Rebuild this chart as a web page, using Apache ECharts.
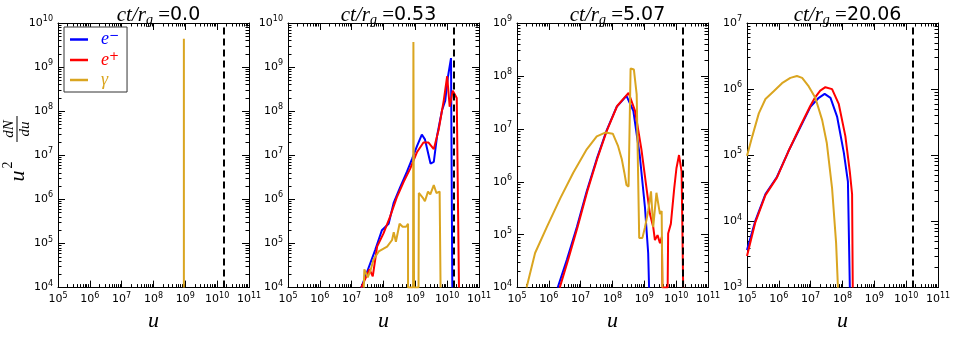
<!DOCTYPE html>
<html>
<head>
<meta charset="utf-8">
<script src="https://cdn.jsdelivr.net/npm/echarts@6/dist/echarts.min.js"></script>
<style>
html, body { margin: 0; padding: 0; background: #fff; }
#chart { width: 954px; height: 337px; }
</style>
</head>
<body>
<div id="chart"></div>
<script>
// one entry per panel
const times = ['0.0', '0.53', '5.07', '20.06'];
const uMin = 1e5, uMax = 1e11;
const yMins = [1e4, 1e4, 1e4, 1e3];
const yMaxs = [1e10, 1e10, 1e9, 1e7];
const uLimit = 1.6e10; // dashed vertical line

// [u, u^2 dN/du]
const elec0 = [];
const posi0 = [];
const phot0 = [[9e8, 1e4], [9e8, 4.4e9]];

const elec1 = [[2.0e7, 1e4], [3.0e7, 2.2e4], [5.5e7, 7.2e4], [8.9e7, 2.0e5], [1.45e8, 2.8e5], [2.1e8, 8.5e5],
  [3.4e8, 1.95e6], [5.5e8, 4.3e6], [7.9e8, 8.3e6], [1.12e9, 1.6e7], [1.6e9, 2.95e7], [2.0e9, 2.3e7],
  [3.0e9, 6.5e6], [3.8e9, 7.1e6], [4.8e9, 2.7e7], [6.9e9, 1.05e8], [8.7e9, 1.74e8], [1.05e10, 5.8e8],
  [1.32e10, 1.6e9], [1.45e10, 1e4]];
const posi1 = [[2.0e7, 1e4], [3.0e7, 1.9e4], [3.6e7, 2.6e4], [4.6e7, 1.8e4], [6.3e7, 8.5e4], [1.0e8, 1.7e5],
  [1.6e8, 4.0e5], [2.6e8, 1.1e6], [4.3e8, 2.5e6], [6.9e8, 5.0e6], [1.12e9, 1.17e7], [1.8e9, 1.95e7],
  [2.6e9, 1.95e7], [3.8e9, 1.38e7], [5.4e9, 3.8e7], [7.8e9, 1.74e8], [1.0e10, 6.2e8], [1.2e10, 1.26e8],
  [1.5e10, 2.9e8], [2.0e10, 2.0e8], [2.35e10, 1e4]];
const phot1 = [[2.4e7, 1e4], [2.5e7, 2.6e4], [3.2e7, 1.7e4], [4.0e7, 2.6e4], [4.9e7, 4.4e4], [7.1e7, 6.6e4],
  [1.3e8, 8.5e4], [1.86e8, 1.2e5], [2.1e8, 1.8e5], [2.45e8, 1.1e5], [3.2e8, 2.8e5], [4.0e8, 2.4e5],
  [5.1e8, 2.4e5], [5.9e8, 2.8e5], [5.9e8, 1e4], [8.5e8, 1e4], [8.7e8, 3.7e9], [9.1e8, 1e4], [1.26e9, 1e4],
  [1.29e9, 1.4e6], [1.7e9, 1.1e6], [2.0e9, 9.1e5], [2.5e9, 1.5e6], [2.95e9, 1.3e6], [3.8e9, 2.1e6],
  [4.6e9, 1.4e6], [5.8e9, 1.5e6], [6.2e9, 1e4]];

const elec2 = [[1.9e6, 1e4], [3.7e6, 3.4e4], [7.6e6, 1.4e5], [1.55e7, 6.6e5], [3.2e7, 2.7e6], [6.6e7, 9.5e6],
  [1.35e8, 2.6e7], [2.75e8, 4.2e7], [4.5e8, 2.2e7], [7.2e8, 3.1e6], [1.05e9, 3.2e5], [1.32e9, 4.5e4],
  [1.41e9, 1e4]];
const posi2 = [[2.2e6, 1e4], [4.0e6, 3.3e4], [8e6, 1.4e5], [1.6e7, 6.5e5], [3.3e7, 2.7e6], [6.8e7, 9.6e6],
  [1.4e8, 2.7e7], [3.2e8, 4.8e7], [5.1e8, 2.2e7], [8.1e8, 4.1e6], [1.17e9, 7.6e5], [1.5e9, 2.45e5],
  [1.9e9, 1.4e5], [2.15e9, 7.9e4], [2.6e9, 9.8e4], [3.1e9, 6.9e4], [3.55e9, 9.1e4], [3.7e9, 1e4],
  [5.4e9, 1e4], [5.6e9, 1.05e5], [6.8e9, 1.6e5], [8.7e9, 7.6e5], [1.02e10, 1.8e6], [1.23e10, 3.2e6],
  [1.48e10, 1.55e6], [1.66e10, 1e4]];
const phot2 = [[2.0e5, 1e4], [3.7e5, 4.5e4], [8.7e5, 1.4e5], [2.3e6, 4.9e5], [5.9e6, 1.5e6], [1.55e7, 4.1e6],
  [3.2e7, 7.2e6], [5.9e7, 8.5e6], [1.02e8, 8.1e6], [1.5e8, 4.7e6], [1.95e8, 2.7e6], [2.35e8, 1.5e6],
  [2.75e8, 8.7e5], [3.2e8, 8.1e5], [3.7e8, 1.38e8], [4.7e8, 1.32e8], [5.75e8, 4.5e7], [6.9e8, 8.7e4],
  [8.7e8, 8.7e4], [1.05e9, 1.38e5], [1.32e9, 2.8e5], [1.62e9, 6.6e5], [1.9e9, 1.38e5], [2.4e9, 6.2e5],
  [3.1e9, 2.45e5], [3.5e9, 2.8e5], [3.7e9, 1e4]];

const elec3 = [[1e5, 3.7e3], [1.8e5, 1.0e4], [3.8e5, 2.6e4], [8.7e5, 4.7e4], [2.0e6, 1.15e5], [4.8e6, 2.7e5],
  [9.8e6, 5.4e5], [1.8e7, 7.4e5], [2.75e7, 8.5e5], [4.2e7, 7.4e5], [6.8e7, 3.8e5], [1.1e8, 1.1e5],
  [1.48e8, 4.0e4], [1.7e8, 1e3]];
const posi3 = [[1e5, 3.0e3], [1.8e5, 9.5e3], [3.8e5, 2.5e4], [8.7e5, 4.6e4], [2.0e6, 1.15e5], [4.8e6, 2.8e5],
  [9.8e6, 5.6e5], [1.4e7, 7.6e5], [2.0e7, 9.5e5], [2.9e7, 1.07e6], [4.7e7, 1.0e6], [7.6e7, 6.0e5],
  [1.23e8, 1.95e5], [1.7e8, 5.6e4], [2.0e8, 2.6e4], [2.1e8, 1e3]];
const phot3 = [[1e5, 9.8e4], [1.45e5, 1.9e5], [2.35e5, 4.3e5], [3.8e5, 7.1e5], [6.9e5, 9.3e5], [1.26e6, 1.23e6],
  [2.3e6, 1.48e6], [3.7e6, 1.58e6], [5.4e6, 1.48e6], [8.7e6, 1.1e6], [1.4e7, 7.4e5], [2.3e7, 3.4e5],
  [3.2e7, 1.55e5], [4.7e7, 3.2e4], [6.3e7, 4.7e3], [7.2e7, 1e3]];

const elecData = [elec0, elec1, elec2, elec3];
const posiData = [posi0, posi1, posi2, posi3];
const photData = [phot0, phot1, phot2, phot3];

const names = ['e-', 'e+', 'γ'];
const colors = ['#0000ff', '#ff0000', '#daa520'];

// layout
const gLeft = [58, 288, 517, 747];
const gTop = 23, gW = 191, gH = 272;

function minorTicks(lo, hi) {
  const out = [];
  for (let d = Math.round(Math.log10(lo)); d < Math.round(Math.log10(hi)); d++) {
    for (let k = 2; k <= 9; k++) out.push(k * Math.pow(10, d));
  }
  return out;
}

const powLabel = v => '{b|10}{s|' + Math.round(Math.log10(v)) + '}';
const labelRich = {
  b: { fontFamily: 'DejaVu Sans', fontSize: 11, lineHeight: 16, color: '#000' },
  s: { fontFamily: 'DejaVu Sans', fontSize: 8, lineHeight: 9, verticalAlign: 'top', color: '#000' }
};

const grid = [], xAxis = [], yAxis = [], series = [];

gLeft.forEach((left, i) => {
  grid.push({ left: left, top: gTop, width: gW, height: gH, containLabel: false });

  const xBase = { type: 'log', logBase: 10, min: uMin, max: uMax, gridIndex: i,
    axisLine: { show: true, lineStyle: { color: '#000', width: 1 } }, splitLine: { show: false } };
  // bottom major with labels
  xAxis.push(Object.assign({}, xBase, {
    position: 'bottom', interval: 1,
    name: 'u', nameLocation: 'middle', nameGap: 17,
    nameTextStyle: { fontFamily: 'Liberation Serif', fontStyle: 'italic', fontSize: 22, color: '#000' },
    axisTick: { inside: true, length: 7, lineStyle: { color: '#000' } },
    axisLabel: { margin: 4, formatter: powLabel, rich: labelRich, showMinLabel: true, showMaxLabel: true }
  }));
  // top major
  xAxis.push(Object.assign({}, xBase, {
    position: 'top', interval: 1,
    axisTick: { inside: true, length: 7, lineStyle: { color: '#000' } }, axisLabel: { show: false }
  }));
  // minor bottom / top
  ['bottom', 'top'].forEach(p => xAxis.push(Object.assign({}, xBase, {
    position: p, axisLine: { show: false },
    axisTick: { inside: true, length: 3.5, customValues: minorTicks(uMin, uMax), lineStyle: { color: '#000' } },
    axisLabel: { show: false }
  })));

  const yBase = { type: 'log', logBase: 10, min: yMins[i], max: yMaxs[i], gridIndex: i,
    axisLine: { show: true, lineStyle: { color: '#000', width: 1 } }, splitLine: { show: false } };
  yAxis.push(Object.assign({}, yBase, {
    position: 'left', interval: 1,
    axisTick: { inside: true, length: 7, lineStyle: { color: '#000' } },
    axisLabel: { margin: 5, formatter: powLabel, rich: labelRich, showMinLabel: true, showMaxLabel: true }
  }));
  yAxis.push(Object.assign({}, yBase, {
    position: 'right', interval: 1,
    axisTick: { inside: true, length: 7, lineStyle: { color: '#000' } }, axisLabel: { show: false }
  }));
  ['left', 'right'].forEach(p => yAxis.push(Object.assign({}, yBase, {
    position: p, axisLine: { show: false },
    axisTick: { inside: true, length: 3.5, customValues: minorTicks(yMins[i], yMaxs[i]), lineStyle: { color: '#000' } },
    axisLabel: { show: false }
  })));

  [elecData[i], posiData[i], photData[i]].forEach((d, k) => {
    const s = {
      name: names[k], type: 'line', data: d,
      xAxisIndex: i * 4, yAxisIndex: i * 4,
      symbol: 'none', clip: true, z: 3 + k,
      itemStyle: { color: colors[k] },
      lineStyle: { color: colors[k], width: 2 }
    };
    if (k === 2) {
      s.markLine = {
        silent: true, symbol: ['none', 'none'], label: { show: false },
        lineStyle: { color: '#000', width: 2, type: [7, 4] },
        data: [{ xAxis: uLimit }]
      };
    }
    series.push(s);
  });
});

const titleRich = {
  m: { fontFamily: 'Liberation Serif', fontStyle: 'italic', fontWeight: 'normal', fontSize: 21, lineHeight: 24, color: '#000' },
  g: { fontFamily: 'Liberation Serif', fontStyle: 'italic', fontWeight: 'normal', fontSize: 14, lineHeight: 12, verticalAlign: 'bottom', color: '#000' },
  e: { fontFamily: 'Liberation Serif', fontWeight: 'normal', fontSize: 21, lineHeight: 24, color: '#000' },
  n: { fontFamily: 'DejaVu Sans', fontWeight: 'normal', fontSize: 19, lineHeight: 24, color: '#000' }
};

const option = {
  animation: false,
  backgroundColor: '#fff',
  title: times.map((t, i) => ({
    text: '{m|ct/r}{g|g}{e| =}{n|' + t + '}',
    left: gLeft[i] + gW / 2, top: -2, textAlign: 'center',
    textStyle: { fontWeight: 'normal', rich: titleRich }
  })),
  legend: {
    left: 64, top: 27, orient: 'vertical',
    backgroundColor: '#fff', borderColor: '#333', borderWidth: 1,
    padding: [3, 8, 3, 6], itemGap: 2, itemWidth: 18, itemHeight: 2.5, icon: 'rect',
    data: names.map((n, k) => ({ name: n, textStyle: { color: colors[k] } })),
    formatter: n => n === 'γ' ? '{b|γ}' : '{b|e}{s|' + (n === 'e-' ? '−' : '+') + '}',
    textStyle: {
      rich: {
        b: { fontFamily: 'Liberation Serif', fontStyle: 'italic', fontSize: 18, lineHeight: 19, padding: [0, 0, 0, 8] },
        s: { fontFamily: 'DejaVu Sans', fontSize: 12, lineHeight: 10, verticalAlign: 'top' }
      }
    }
  },
  grid: grid,
  xAxis: xAxis,
  yAxis: yAxis,
  series: series,
  graphic: [{
    type: 'group', x: 17, y: 143, rotation: Math.PI / 2,
    children: [
      { type: 'text', x: -33, y: 1, style: { text: 'u', font: 'italic 22px "Liberation Serif"', align: 'center', verticalAlign: 'middle', fill: '#000' } },
      { type: 'text', x: -22, y: -9, style: { text: '2', font: '14px "Liberation Serif"', align: 'center', verticalAlign: 'middle', fill: '#000' } },
      { type: 'text', x: 14, y: -8, style: { text: 'dN', font: 'italic 15px "Liberation Serif"', align: 'center', verticalAlign: 'middle', fill: '#000' } },
      { type: 'line', shape: { x1: 1, y1: 0, x2: 27, y2: 0 }, style: { stroke: '#000', lineWidth: 1 } },
      { type: 'text', x: 14, y: 8, style: { text: 'du', font: 'italic 15px "Liberation Serif"', align: 'center', verticalAlign: 'middle', fill: '#000' } }
    ]
  }]
};

const chart = echarts.init(document.getElementById('chart'));
chart.setOption(option);
</script>
</body>
</html>
